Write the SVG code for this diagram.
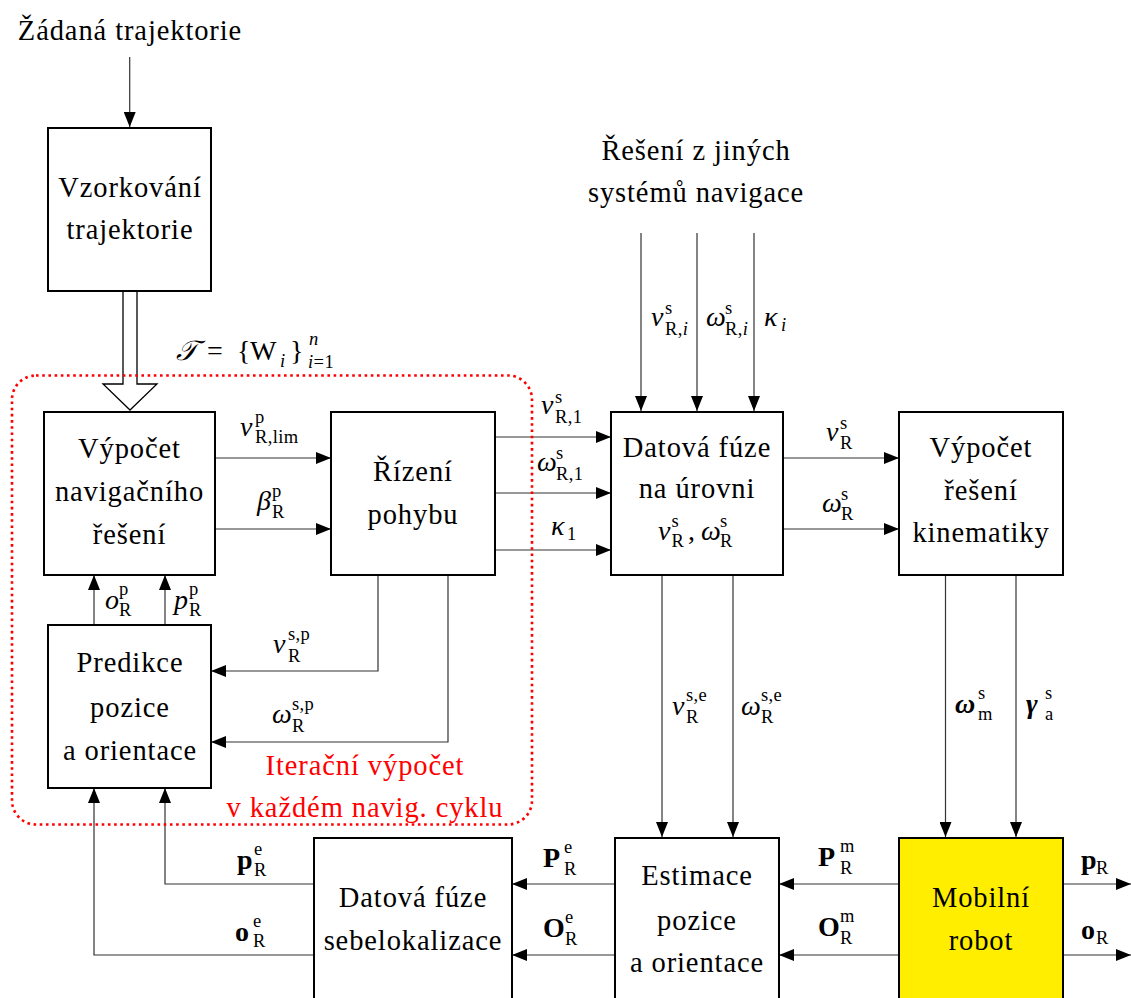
<svg xmlns="http://www.w3.org/2000/svg" width="1131" height="998" viewBox="0 0 1131 998" font-family="Liberation Serif, Times New Roman, serif">
<defs>
<marker id="ah" markerUnits="userSpaceOnUse" markerWidth="15" markerHeight="12" refX="15" refY="6" orient="auto"><path d="M0,0 L15,6 L0,12 z" fill="#000"/></marker>
<style>
.box{fill:#fff;stroke:#000;stroke-width:2}
.t{font-size:28.5px;letter-spacing:0.9px;fill:#000;text-anchor:middle}
.red{fill:#ff0000}
.m{font-size:28px;fill:#000}
.i{font-style:italic}
.b{font-weight:bold}
.s{font-size:18.5px;letter-spacing:0.4px;fill:#000}
.c{fill:none;stroke:#333;stroke-width:1.2;marker-end:url(#ah)}
</style>
</defs>
<rect width="1131" height="998" fill="#fff"/>

<g id="connectors">
<path class="c" d="M129.7,57 V127"/>
<path d="M123,292 V384 H103 L130,410 L157,384 H137 V292" fill="#fff" stroke="#000" stroke-width="1.3"/>
<path class="c" d="M215,458 H331"/>
<path class="c" d="M215,529 H331"/>
<path class="c" d="M495,437 H611"/>
<path class="c" d="M495,493 H611"/>
<path class="c" d="M495,550 H611"/>
<path class="c" d="M641,233 V411"/>
<path class="c" d="M697,233 V411"/>
<path class="c" d="M754,233 V411"/>
<path class="c" d="M783,458 H899"/>
<path class="c" d="M783,529 H899"/>
<path class="c" d="M662,575 V837"/>
<path class="c" d="M733,575 V837"/>
<path class="c" d="M945.5,575 V837"/>
<path class="c" d="M1016,575 V837"/>
<path class="c" d="M899,884 H779"/>
<path class="c" d="M899,955 H779"/>
<path class="c" d="M615,884 H512"/>
<path class="c" d="M615,955 H512"/>
<path class="c" d="M1063,884 H1131"/>
<path class="c" d="M1063,955 H1131"/>
<path class="c" d="M314,884 H165 V788"/>
<path class="c" d="M314,955 H94 V788"/>
<path class="c" d="M94,624 V575"/>
<path class="c" d="M165,624 V575"/>
<path class="c" d="M378,575 V671 H211"/>
<path class="c" d="M448,575 V742 H211"/>
</g>

<g id="iter-region">
<rect x="12" y="375.5" width="520" height="449" rx="24" fill="none" stroke="#ff0000" stroke-width="2.6" stroke-dasharray="2.6 3.6"/>
<text class="t red" x="365" y="775">Iterační výpočet</text>
<text class="t red" x="365" y="817">v každém navig. cyklu</text>
</g>

<g id="input-trajektorie">
<text class="t" x="130" y="40">Žádaná trajektorie</text>
</g>

<g id="input-jine">
<text class="t" x="696" y="160">Řešení z jiných</text>
<text class="t" x="696" y="202">systémů navigace</text>
</g>

<g id="vzorkovani">
<rect class="box" x="48" y="128" width="163" height="163"/>
<text class="t" x="130" y="197">Vzorkování</text>
<text class="t" x="130" y="239">trajektorie</text>
</g>

<g id="vypocet-nav">
<rect class="box" x="44" y="412" width="171" height="163"/>
<text class="t" x="129.5" y="458">Výpočet</text>
<text class="t" x="129.5" y="501">navigačního</text>
<text class="t" x="129.5" y="544">řešení</text>
</g>

<g id="rizeni">
<rect class="box" x="331" y="412" width="164" height="163"/>
<text class="t" x="413" y="481">Řízení</text>
<text class="t" x="413" y="524">pohybu</text>
</g>

<g id="datova-fuze">
<rect class="box" x="611" y="412" width="172" height="163"/>
<text class="t" x="697" y="457">Datová fúze</text>
<text class="t" x="697" y="498">na úrovni</text>
<text class="m i" x="658" y="540">v</text><text class="s" x="671.5" y="527">s</text><text class="s" x="671.5" y="547">R</text>
<text class="m" x="688" y="540">,</text>
<text class="m i" x="701" y="540">ω</text><text class="s" x="720" y="527">s</text><text class="s" x="720" y="547">R</text>
</g>

<g id="kinematika">
<rect class="box" x="899" y="412" width="164" height="163"/>
<text class="t" x="981" y="457">Výpočet</text>
<text class="t" x="981" y="500">řešení</text>
<text class="t" x="981" y="542">kinematiky</text>
</g>

<g id="predikce">
<rect class="box" x="48" y="625" width="163" height="163"/>
<text class="t" x="130" y="672">Predikce</text>
<text class="t" x="130" y="717">pozice</text>
<text class="t" x="130" y="760">a orientace</text>
</g>

<g id="sebelokalizace">
<rect class="box" x="314" y="838" width="198" height="170"/>
<text class="t" x="413" y="907">Datová fúze</text>
<text class="t" x="413" y="950">sebelokalizace</text>
</g>

<g id="estimace">
<rect class="box" x="615" y="838" width="164" height="170"/>
<text class="t" x="697" y="885">Estimace</text>
<text class="t" x="697" y="930">pozice</text>
<text class="t" x="697" y="972">a orientace</text>
</g>

<g id="mobilni-robot">
<rect x="899" y="838" width="164" height="170" fill="#ffee00" stroke="#000" stroke-width="2"/>
<text class="t" x="981" y="907">Mobilní</text>
<text class="t" x="981" y="950">robot</text>
</g>

<g id="labels">
<text class="m i" x="176" y="360">𝒯</text>
<text class="m" x="207" y="360">=</text>
<text class="m" x="237" y="360">{</text>
<text class="m" x="250" y="360">W</text>
<text class="s i" x="280" y="367">i</text>
<text class="m" x="290" y="360">}</text>
<text class="s i" x="309" y="345">n</text>
<text class="s" x="308" y="368"><tspan class="i">i</tspan>=1</text>

<text class="m i" x="240" y="436">v</text><text class="s" x="255" y="423">p</text><text class="s" x="255" y="443">R,lim</text>
<text class="m i" x="257" y="510">β</text><text class="s" x="272" y="497">p</text><text class="s" x="272" y="518">R</text>
<text class="m i" x="105" y="609">o</text><text class="s" x="119" y="595">p</text><text class="s" x="119" y="616">R</text>
<text class="m i" x="174" y="609">p</text><text class="s" x="189" y="595">p</text><text class="s" x="189" y="616">R</text>

<text class="m i" x="541" y="414">v</text><text class="s" x="555" y="403">s</text><text class="s" x="555" y="423">R,1</text>
<text class="m i" x="537" y="471">ω</text><text class="s" x="556" y="459">s</text><text class="s" x="556" y="480">R,1</text>
<text class="m i" x="551" y="535">κ</text><text class="s" x="567" y="540">1</text>

<text class="m i" x="651" y="326">v</text><text class="s" x="665" y="314">s</text><text class="s" x="665" y="335">R,<tspan class="i">i</tspan></text>
<text class="m i" x="706" y="326">ω</text><text class="s" x="725" y="314">s</text><text class="s" x="725" y="335">R,<tspan class="i">i</tspan></text>
<text class="m i" x="764" y="326">κ</text><text class="s i" x="781" y="331">i</text>

<text class="m i" x="826" y="441">v</text><text class="s" x="840" y="429">s</text><text class="s" x="840" y="449">R</text>
<text class="m i" x="822" y="512">ω</text><text class="s" x="841" y="500">s</text><text class="s" x="841" y="520">R</text>

<text class="m i" x="273" y="653">v</text><text class="s" x="288" y="640">s,p</text><text class="s" x="288" y="662">R</text>
<text class="m i" x="272" y="723">ω</text><text class="s" x="292" y="710">s,p</text><text class="s" x="292" y="732">R</text>

<text class="m i" x="672" y="715">v</text><text class="s" x="686" y="701">s,e</text><text class="s" x="686" y="723">R</text>
<text class="m i" x="741" y="715">ω</text><text class="s" x="761" y="701">s,e</text><text class="s" x="761" y="723">R</text>
<text class="m i b" x="955" y="713">ω</text><text class="s" x="978" y="699">s</text><text class="s" x="978" y="720">m</text>
<text class="m i b" x="1026" y="713">γ</text><text class="s" x="1045" y="699">s</text><text class="s" x="1045" y="720">a</text>

<text class="m b" x="237" y="869">p</text><text class="s" x="254" y="855">e</text><text class="s" x="254" y="876">R</text>
<text class="m b" x="235" y="941">o</text><text class="s" x="253" y="927">e</text><text class="s" x="253" y="947">R</text>
<text class="m b" x="543" y="867">P</text><text class="s" x="564" y="853">e</text><text class="s" x="564" y="875">R</text>
<text class="m b" x="543" y="937">O</text><text class="s" x="565" y="923">e</text><text class="s" x="565" y="945">R</text>
<text class="m b" x="818" y="866">P</text><text class="s" x="840" y="852">m</text><text class="s" x="840" y="874">R</text>
<text class="m b" x="818" y="936">O</text><text class="s" x="840" y="922">m</text><text class="s" x="840" y="944">R</text>
<text class="m b" x="1081" y="869">p</text><text class="s" x="1096" y="874">R</text>
<text class="m b" x="1081" y="939">o</text><text class="s" x="1096" y="944">R</text>
</g>
</svg>
